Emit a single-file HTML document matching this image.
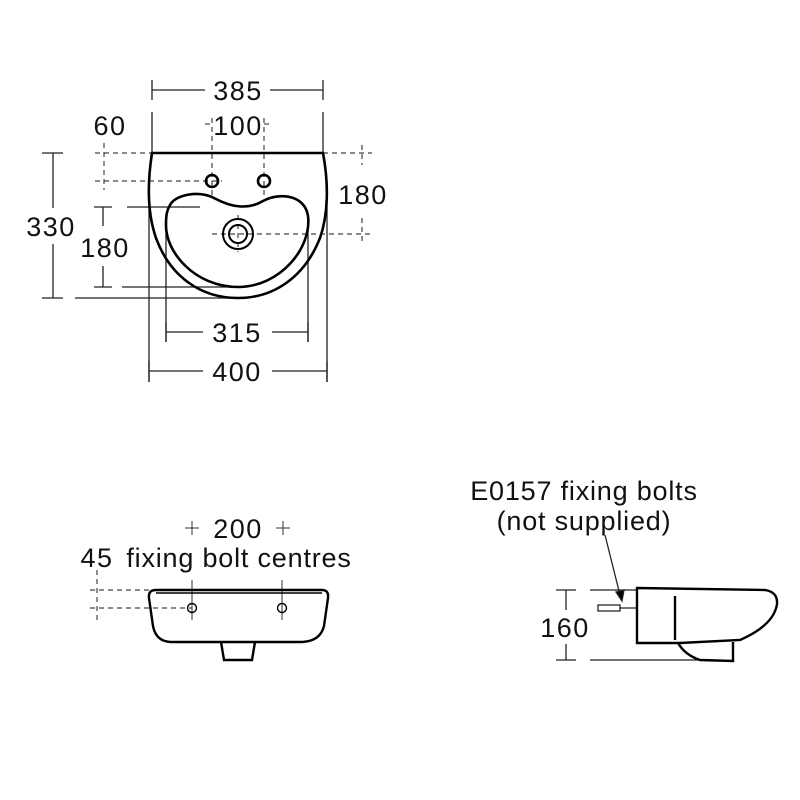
<!DOCTYPE html>
<html><head><style>html,body{margin:0;padding:0;background:#fff}svg{display:block}text{font-family:"Liberation Sans",sans-serif;fill:#111}</style></head><body>
<svg width="800" height="800" viewBox="0 0 800 800" xmlns="http://www.w3.org/2000/svg">
<rect width="800" height="800" fill="#fff"/>
<g stroke="#222" stroke-width="1.3" fill="none">
<line x1="152" y1="80" x2="152" y2="100"/><line x1="323" y1="80" x2="323" y2="100"/>
<line x1="152" y1="90" x2="205" y2="90"/><line x1="270" y1="90" x2="323" y2="90"/>
<line x1="152" y1="112" x2="152" y2="153"/><line x1="323" y1="112" x2="323" y2="153"/>
<line x1="149" y1="200" x2="149" y2="382"/><line x1="327" y1="200" x2="327" y2="382"/>
<line x1="166" y1="215" x2="166" y2="342"/><line x1="308" y1="215" x2="308" y2="342"/>
<line x1="166" y1="322" x2="166" y2="342"/><line x1="308" y1="322" x2="308" y2="342"/>
<line x1="166" y1="332" x2="203" y2="332"/><line x1="272" y1="332" x2="308" y2="332"/>
<line x1="149" y1="361" x2="149" y2="382"/><line x1="327" y1="361" x2="327" y2="382"/>
<line x1="149" y1="371" x2="203" y2="371"/><line x1="272" y1="371" x2="327" y2="371"/>
<line x1="53" y1="153" x2="53" y2="208"/><line x1="53" y1="244" x2="53" y2="298"/>
<line x1="42" y1="153" x2="63" y2="153"/><line x1="42" y1="298" x2="63" y2="298"/>
<line x1="75" y1="298" x2="240" y2="298"/>
<line x1="103" y1="207" x2="103" y2="226"/><line x1="103" y1="266" x2="103" y2="287"/>
<line x1="94" y1="207" x2="112" y2="207"/><line x1="94" y1="287" x2="112" y2="287"/>
<line x1="127" y1="207" x2="200" y2="207"/><line x1="122" y1="287" x2="230" y2="287"/>
</g>
<g stroke="#444" stroke-width="1.2" stroke-dasharray="5,4" fill="none">
<line x1="95" y1="153" x2="152" y2="153"/><line x1="95" y1="181" x2="222" y2="181"/>
<line x1="104" y1="143" x2="104" y2="190"/>
<line x1="212" y1="118" x2="212" y2="196"/><line x1="264" y1="118" x2="264" y2="196"/>
<line x1="205" y1="124" x2="212" y2="124"/><line x1="264" y1="124" x2="271" y2="124"/>
<line x1="323" y1="153" x2="372" y2="153"/><line x1="212" y1="234" x2="372" y2="234"/>
<line x1="362" y1="145" x2="362" y2="165"/><line x1="362" y1="218" x2="362" y2="243"/>
<line x1="238" y1="215" x2="238" y2="252"/>
<line x1="90" y1="590" x2="150" y2="590"/><line x1="90" y1="608" x2="192" y2="608"/>
<line x1="97" y1="570" x2="97" y2="622"/>
</g>
<g stroke="#000" stroke-width="2.6" fill="none">
<path d="M152,153 L323,153 C329,185 328,215 320,238 C305,276 275,298 238,298 C200,298 170,276 156,238 C148,215 147,185 152,153 Z"/>
<path d="M170,205 C176,194 200,190 216,199 C231,207 248,210 263,201 C280,192 305,195 308,216 C312,248 280,287 238,287 C195,287 165,252 166,224 C166,215 167,210 170,205 Z"/>
<circle cx="212" cy="181" r="6"/><circle cx="264" cy="181" r="6"/>
<circle cx="238" cy="234" r="15" stroke-width="2"/><circle cx="238" cy="234" r="9" stroke-width="2"/>
</g>
<g font-size="27" text-anchor="middle" letter-spacing="1.5">
<text x="238" y="100">385</text>
<text x="110" y="135">60</text>
<text x="238" y="135">100</text>
<text x="363" y="204">180</text>
<text x="51" y="236">330</text>
<text x="105" y="257">180</text>
<text x="237" y="342">315</text>
<text x="237" y="381">400</text>
<text x="238" y="538">200</text>
<text x="97" y="567">45</text>
<text x="565" y="637">160</text>
</g>
<g font-size="27" text-anchor="middle" letter-spacing="0.8">
<text x="239" y="567">fixing bolt centres</text>
<text x="584" y="500">E0157 fixing bolts</text>
<text x="584" y="530">(not supplied)</text>
</g>
<g stroke="#444" stroke-width="1.1">
<line x1="185" y1="528" x2="199" y2="528"/><line x1="192" y1="521" x2="192" y2="535"/>
<line x1="276" y1="528" x2="290" y2="528"/><line x1="283" y1="521" x2="283" y2="535"/>
<line x1="192" y1="580" x2="192" y2="620"/><line x1="282" y1="580" x2="282" y2="620"/>
</g>
<g stroke="#000" stroke-width="2.4" fill="none">
<path d="M156,590 L322,590 Q329,590 328,598 L324,626 Q320,642 300,642 L172,642 Q156,642 153,626 L149,598 Q148,590 156,590 Z"/>
<path d="M156,593 L322,593" stroke-width="1.4"/>
<path d="M221,642 L224,660 L252,660 L255,642"/>
<circle cx="192" cy="608" r="4.5" stroke-width="1.4"/><circle cx="282" cy="608" r="4.5" stroke-width="1.4"/>
</g>
<g stroke="#222" stroke-width="1.3" fill="none">
<line x1="566" y1="590" x2="566" y2="610"/><line x1="566" y1="644" x2="566" y2="660"/>
<line x1="556" y1="590" x2="576" y2="590"/><line x1="556" y1="660" x2="576" y2="660"/>
<line x1="590" y1="590" x2="637" y2="590"/><line x1="590" y1="660" x2="700" y2="660"/>
<line x1="605" y1="535" x2="620" y2="595"/>
<path d="M616,592 L622,601 L624,590 Z" fill="#000"/>
<path d="M598,605 L620,605 L620,611 L598,611 Z"/>
<line x1="620" y1="608" x2="637" y2="608"/>
</g>
<g stroke="#000" stroke-width="2.4" fill="none">
<path d="M637,588 L765,590 Q778,592 777,604 Q774,625 740,640 L680,643 L637,643 Z"/>
<line x1="675" y1="596" x2="675" y2="640"/>
<path d="M678,643 Q685,655 700,660 L733,661 L733,642"/>
</g>
</svg>
</body></html>
